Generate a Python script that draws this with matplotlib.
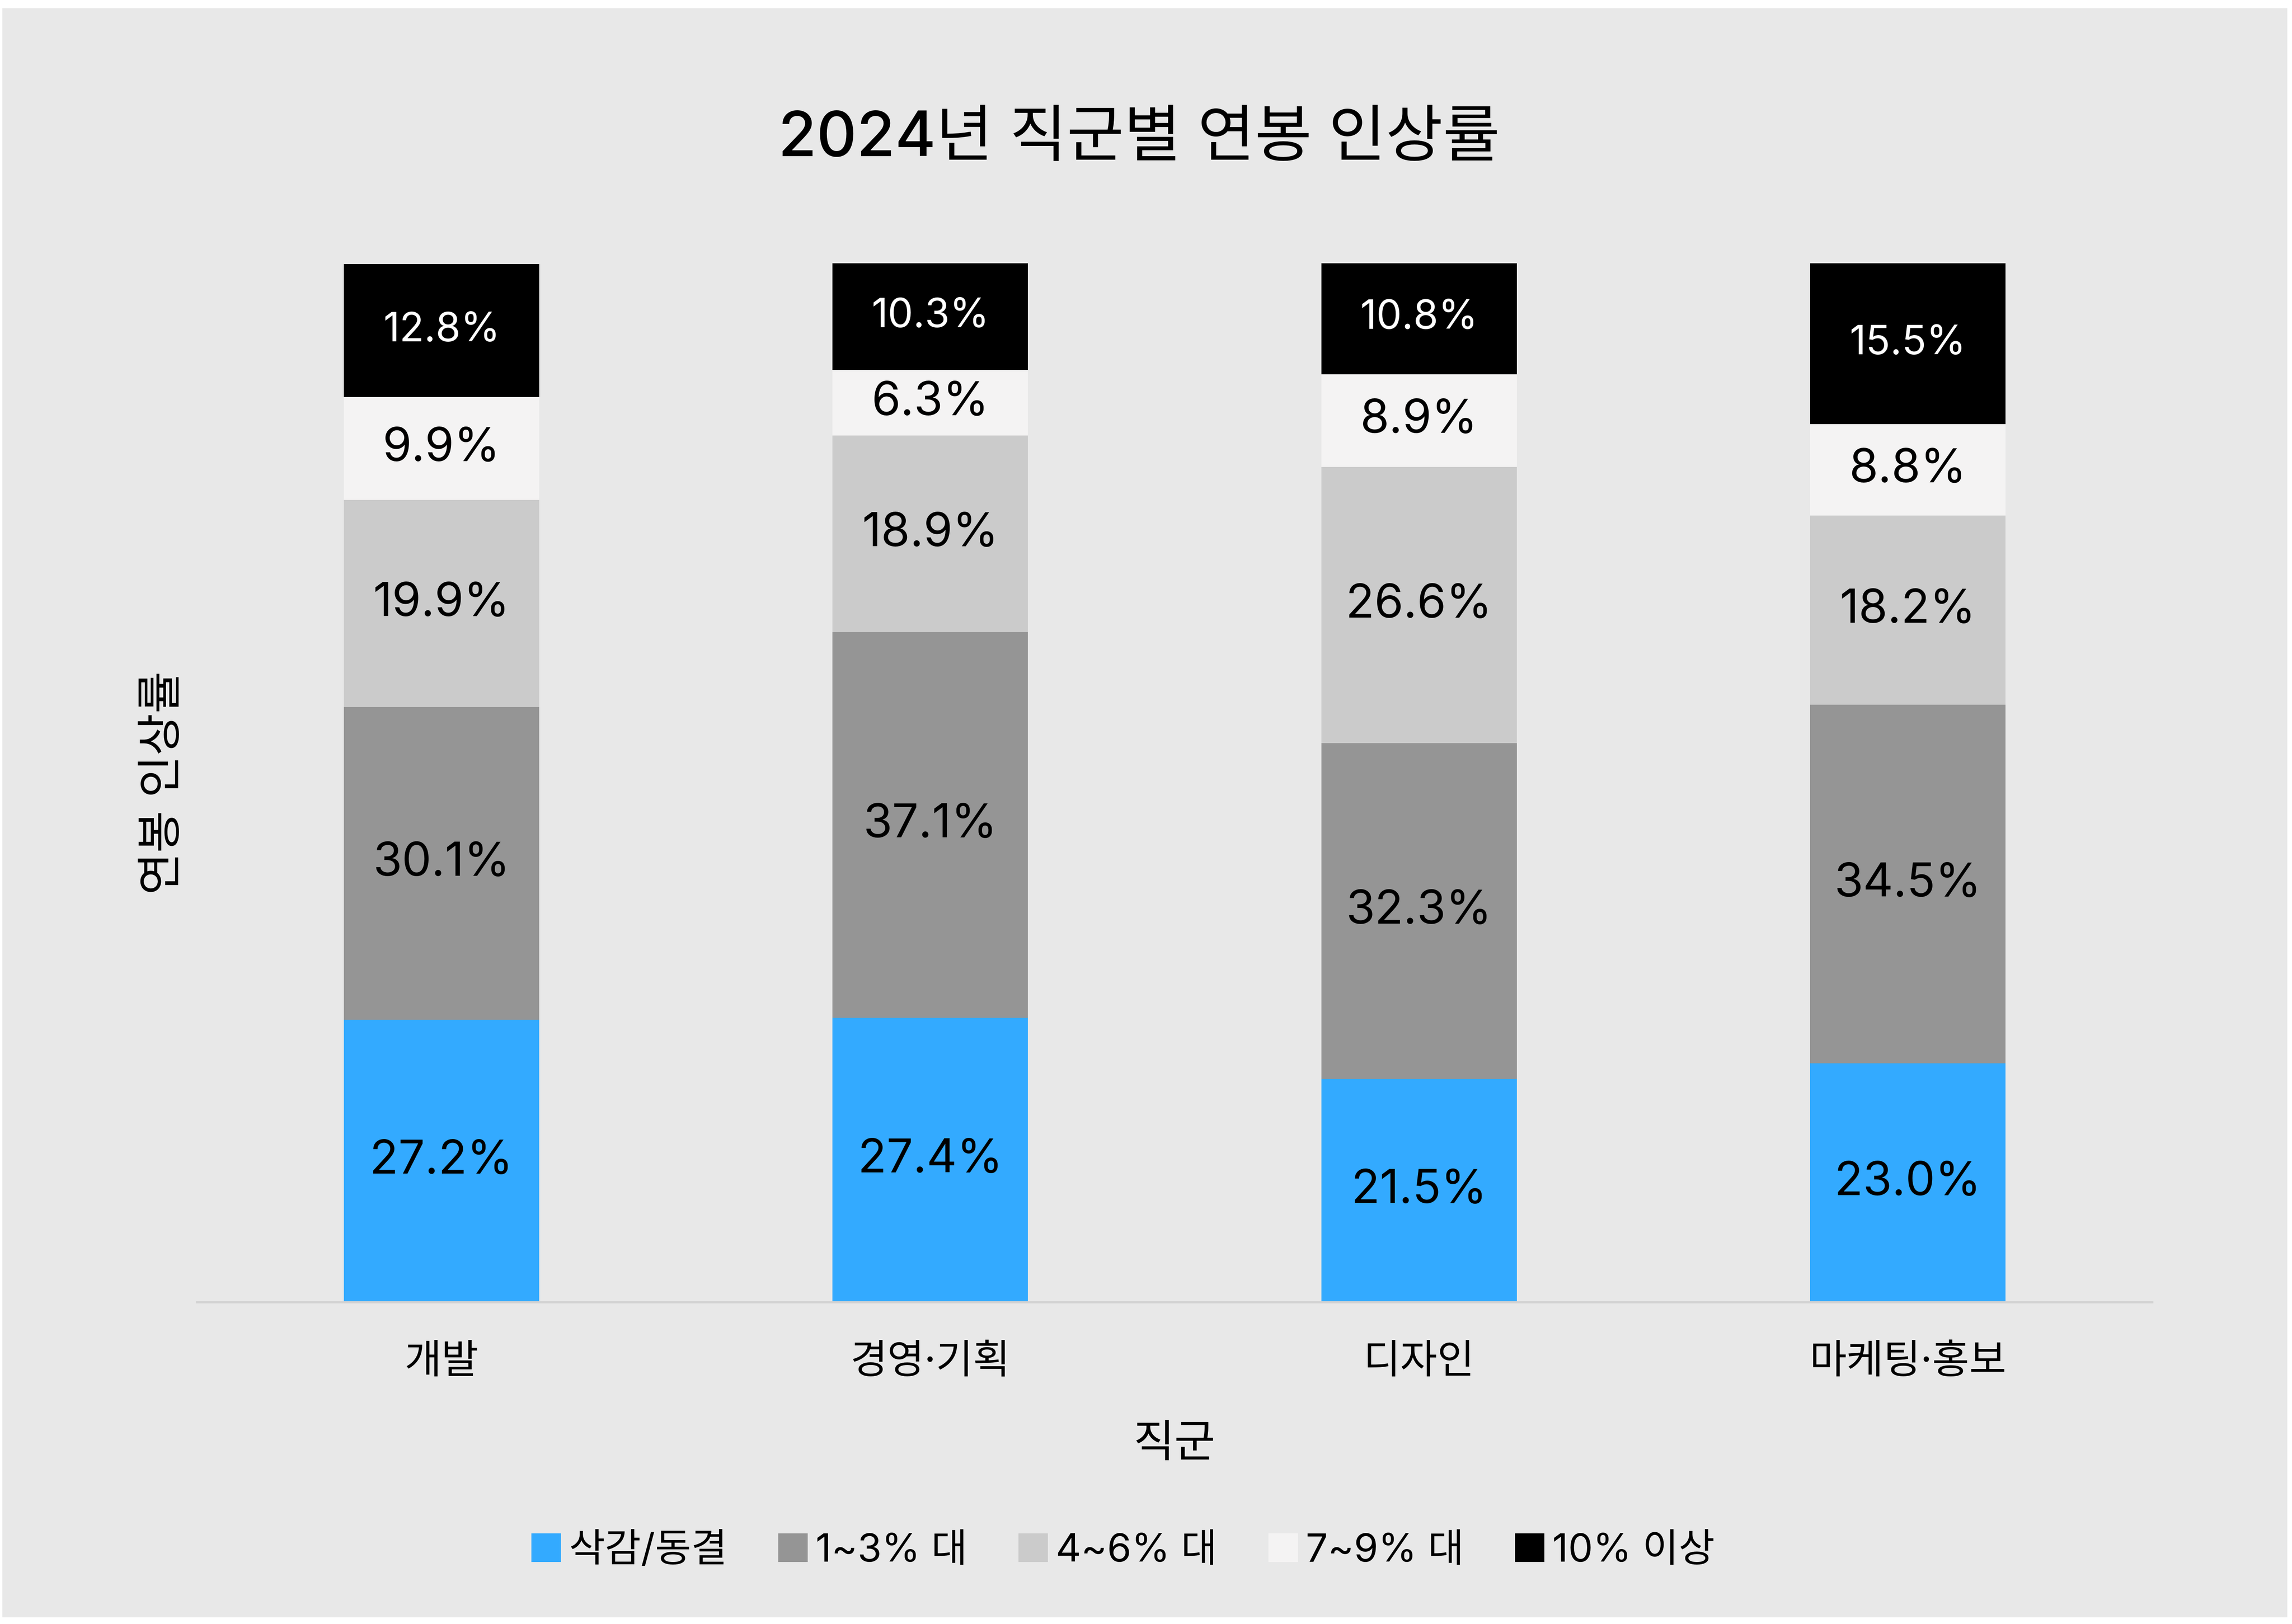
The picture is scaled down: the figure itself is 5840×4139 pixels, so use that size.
import matplotlib
matplotlib.use("Agg")
import matplotlib.pyplot as plt
from matplotlib.patches import Rectangle
import numpy as np

# Inter for digits and latin, Hangul falls back to Noto
plt.rcParams['font.family'] = ['Inter', 'Noto Sans CJK KR', 'DejaVu Sans']

# ====== DATA ======
categories = ["개발", "경영·기획", "디자인", "마케팅·홍보"]
series_names = ["삭감/동결", "1~3% 대", "4~6% 대", "7~9% 대", "10% 이상"]
cut_freeze = [27.2, 27.4, 21.5, 23.0]
raise_1_3 = [30.1, 37.1, 32.3, 34.5]
raise_4_6 = [19.9, 18.9, 26.6, 18.2]
raise_7_9 = [9.9, 6.3, 8.9, 8.8]
raise_10_plus = [12.8, 10.3, 10.8, 15.5]

colors = ["#33aaff", "#959595", "#cbcbcb", "#f4f3f3", "#000000"]
text_colors = ["black", "black", "black", "black", "white"]
label_sizes = [43, 43, 43, 43, 37]
# ==================

series = [cut_freeze, raise_1_3, raise_4_6, raise_7_9, raise_10_plus]

fig = plt.figure(figsize=(29.2, 20.695), dpi=200)
fig.patch.set_facecolor("white")
fig.patches.append(Rectangle((0.001, 0.004), 0.997, 0.991, transform=fig.transFigure,
                             facecolor="#e8e8e8", edgecolor="none", zorder=-10))

ax = fig.add_axes([0.086, 0.198, 0.853, 0.640])
ax.set_facecolor("none")

x = np.arange(len(categories))
bottom = np.zeros(len(categories))
handles = []
for vals, name, col, tcol, fs in zip(series, series_names, colors, text_colors, label_sizes):
    vals = np.array(vals)
    bars = ax.bar(x, vals, width=0.4, bottom=bottom, color=col, label=name, zorder=2)
    handles.append(bars)
    for xi, b, v in zip(x, bottom, vals):
        ax.text(xi, b + v / 2, f"{v:.1f}%", ha="center", va="center",
                color=tcol, fontsize=fs, zorder=3)
    bottom += vals

ax.set_xlim(-0.5, 3.5)
ax.set_ylim(0, 100)
for s in ["top", "right", "left"]:
    ax.spines[s].set_visible(False)
ax.spines["bottom"].set_color("#d2d2d2")
ax.spines["bottom"].set_linewidth(2)
ax.set_yticks([])
ax.set_xticks(x)
ax.set_xticklabels(categories, fontsize=37)
ax.tick_params(axis="x", length=0, pad=38)

ax.set_xlabel("직군", fontsize=41)
ax.xaxis.set_label_coords(0.5, -0.117)
ax.set_ylabel("연봉 인상률", fontsize=42)
ax.yaxis.set_label_coords(-0.006, 0.5)

fig.text(0.497, 0.914, "2024년 직군별 연봉 인상률", ha="center", va="center",
         fontsize=57, fontweight="medium")

fig.legend(handles=handles, labels=series_names, loc="center", bbox_to_anchor=(0.49, 0.045),
           ncol=5, frameon=False, fontsize=36, handlelength=0.75, handleheight=0.75,
           handletextpad=0.2, columnspacing=1.3)

fig.savefig("out.png", dpi=200, facecolor=fig.get_facecolor())
